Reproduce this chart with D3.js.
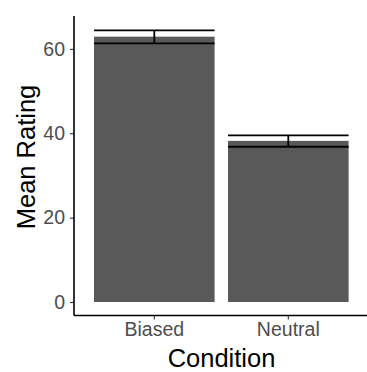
<!DOCTYPE html>
<html>
<head>
<meta charset="utf-8">
<script src="https://cdn.jsdelivr.net/npm/d3@7"></script>
<style>
  body { margin: 0; background: #fff; }
  svg text { font-family: "Liberation Sans", Arial, sans-serif; }
  .tick text { fill: #4d4d4d; font-size: 19.5px; }
  .title { fill: #000; font-size: 25.5px; }
</style>
</head>
<body>
<svg width="367" height="372"></svg>
<script>
// chart data
const conditions = ['Biased', 'Neutral'];
const means = [62.9, 38.2];
const errLow = [61.3, 36.8];
const errHigh = [64.4, 39.5];
const yTicks = [0, 20, 40, 60];

const svg = d3.select('svg');

const x = d3.scaleBand()
  .domain(conditions)
  .range([80.6, 362])
  .padding(0.1);

const y = d3.scaleLinear()
  .domain([-3.2, 67.8])
  .range([315.5, 16]);

const data = conditions.map((c, i) => ({
  cond: c, mean: means[i], lo: errLow[i], hi: errHigh[i]
}));

// bars
svg.selectAll('.bar')
  .data(data)
  .enter()
  .append('rect')
  .attr('class', 'bar')
  .attr('x', d => x(d.cond))
  .attr('width', x.bandwidth())
  .attr('y', d => y(d.mean))
  .attr('height', d => y(0) - y(d.mean))
  .attr('fill', '#595959');

// error bars
const eb = svg.selectAll('.err')
  .data(data)
  .enter()
  .append('g')
  .attr('class', 'err')
  .attr('stroke', '#000')
  .attr('stroke-width', 1.8);

eb.append('line')
  .attr('x1', d => x(d.cond) + x.bandwidth() / 2)
  .attr('x2', d => x(d.cond) + x.bandwidth() / 2)
  .attr('y1', d => y(d.lo))
  .attr('y2', d => y(d.hi));
eb.append('line')
  .attr('x1', d => x(d.cond))
  .attr('x2', d => x(d.cond) + x.bandwidth())
  .attr('y1', d => y(d.lo))
  .attr('y2', d => y(d.lo));
eb.append('line')
  .attr('x1', d => x(d.cond))
  .attr('x2', d => x(d.cond) + x.bandwidth())
  .attr('y1', d => y(d.hi))
  .attr('y2', d => y(d.hi));

// axes
const yAxis = svg.append('g')
  .attr('transform', 'translate(74,0)')
  .call(d3.axisLeft(y).tickValues(yTicks).tickSize(4).tickPadding(5));
yAxis.select('.domain').remove();

const xAxis = svg.append('g')
  .attr('transform', 'translate(0,315.5)')
  .call(d3.axisBottom(x).tickSize(4).tickPadding(3));
xAxis.select('.domain').remove();

svg.selectAll('.tick line').attr('stroke', '#333').attr('stroke-width', 1.1);

svg.append('line')
  .attr('x1', 74).attr('x2', 74)
  .attr('y1', y(67.8)).attr('y2', 315.5)
  .attr('stroke', '#000').attr('stroke-width', 1.6);
svg.append('line')
  .attr('x1', 74).attr('x2', 367)
  .attr('y1', 315.5).attr('y2', 315.5)
  .attr('stroke', '#000').attr('stroke-width', 1.6);

// titles
svg.append('text')
  .attr('class', 'title')
  .attr('x', 221.5)
  .attr('y', 367)
  .attr('text-anchor', 'middle')
  .text('Condition');

svg.append('text')
  .attr('class', 'title')
  .attr('transform', 'translate(34.5,157) rotate(-90)')
  .attr('text-anchor', 'middle')
  .text('Mean Rating');
</script>
</body>
</html>
